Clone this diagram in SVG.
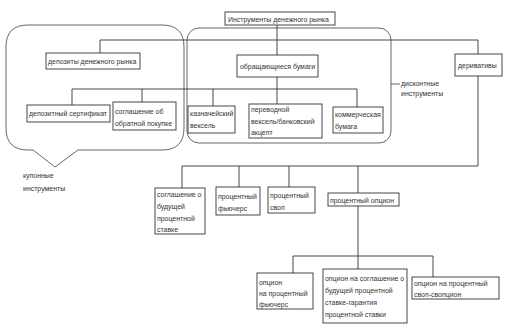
<svg xmlns="http://www.w3.org/2000/svg" width="507" height="330" viewBox="0 0 507 330">
<style>
.bg{fill:#fff}
.box{fill:#fff;stroke:#333;stroke-width:0.9}
.ln{fill:none;stroke:#333;stroke-width:0.9}
.grp{fill:none;stroke:#555;stroke-width:0.9}
text{font-family:"Liberation Sans",Arial,sans-serif;font-size:6.95px;fill:#333}
</style>
<rect class="bg" x="0" y="0" width="507" height="330"/>
<g id="groups">
<path class="grp" d="M28,25 H162 Q184,25 184,47 V128 Q184,150 162,150 H78 L55,167 L33,150 H28 Q6,150 6,128 V47 Q6,25 28,25 Z"/>
<rect class="grp" x="187" y="28" width="204" height="115" rx="12"/>
<line class="grp" x1="391" y1="84" x2="400" y2="84"/>
<text x="401" y="86">дисконтные</text>
<text x="401" y="96">инструменты</text>
<text x="23" y="178">купонные</text>
<text x="23" y="191">инструменты</text>
</g>
<g id="connectors">
<line class="ln" x1="277" y1="25" x2="277" y2="55"/>
<polyline class="ln" points="100,53 100,40 478,40 478,54"/>
<line class="ln" x1="277" y1="77" x2="277" y2="104"/>
<polyline class="ln" points="72,105 72,89 357,89 357,107"/>
<line class="ln" x1="142" y1="89" x2="142" y2="102"/>
<line class="ln" x1="213" y1="89" x2="213" y2="106"/>
<polyline class="ln" points="478,76 478,166 182,166 182,188"/>
<line class="ln" x1="239" y1="166" x2="239" y2="187"/>
<line class="ln" x1="289" y1="166" x2="289" y2="187"/>
<line class="ln" x1="358" y1="166" x2="358" y2="193"/>
<line class="ln" x1="358" y1="206" x2="358" y2="269"/>
<polyline class="ln" points="293,273 293,256 433,256 433,277"/>
</g>
<g id="n-root"><rect class="box" x="225" y="12" width="110" height="13"/><text x="228" y="21.5">Инструменты денежного рынка</text></g>
<g id="n-deposits"><rect class="box" x="46" y="53" width="94" height="16"/><text x="48" y="63.5">депозиты денежного рынка</text></g>
<g id="n-papers"><rect class="box" x="237" y="55" width="81" height="22"/><text x="240" y="68.5">обращающиеся бумаги</text></g>
<g id="n-deriv"><rect class="box" x="455" y="54" width="47" height="22"/><text x="458" y="67.5">деривативы</text></g>
<g id="n-cert"><rect class="box" x="27" y="105" width="83" height="17"/><text x="29" y="116">депозитный сертификат</text></g>
<g id="n-repo"><rect class="box" x="113" y="102" width="63" height="28"/><text x="115" y="114">соглашение об</text><text x="115" y="126">обратной покупке</text></g>
<g id="n-tbill"><rect class="box" x="188" y="106" width="47" height="27"/><text x="190" y="116">казначейский</text><text x="190" y="128">вексель</text></g>
<g id="n-accept"><rect class="box" x="249" y="104" width="73" height="34"/><text x="251" y="112">переводной</text><text x="251" y="124">вексель/банковский</text><text x="251" y="135">акцепт</text></g>
<g id="n-cp"><rect class="box" x="333" y="107" width="50" height="26"/><text x="335" y="117">коммерческая</text><text x="335" y="129">бумага</text></g>
<g id="n-fra"><rect class="box" x="155" y="188" width="50" height="46"/><text x="157" y="197">соглашение о</text><text x="157" y="209">будущей</text><text x="157" y="221">процентной</text><text x="157" y="232">ставке</text></g>
<g id="n-fut"><rect class="box" x="216" y="187" width="44" height="28"/><text x="218" y="199">процентный</text><text x="218" y="211">фьючерс</text></g>
<g id="n-swap"><rect class="box" x="268" y="187" width="47" height="26"/><text x="270" y="198">процентный</text><text x="270" y="210">своп</text></g>
<g id="n-opt"><rect class="box" x="328" y="193" width="71" height="13"/><text x="330" y="202.5">процентный опцион</text></g>
<g id="n-optfut"><rect class="box" x="257" y="273" width="56" height="36"/><text x="259" y="285">опцион</text><text x="259" y="296">на процентный</text><text x="259" y="307">фьючерс</text></g>
<g id="n-optfra"><rect class="box" x="323" y="269" width="84" height="54"/><text x="325" y="281">опцион на соглашение о</text><text x="325" y="293">будущей процентной</text><text x="325" y="305">ставке-гарантия</text><text x="325" y="317">процентной ставки</text></g>
<g id="n-swaption"><rect class="box" x="412" y="277" width="87" height="22"/><text x="414" y="286">опцион на процентный</text><text x="414" y="297">своп-свопцион</text></g>
</svg>
